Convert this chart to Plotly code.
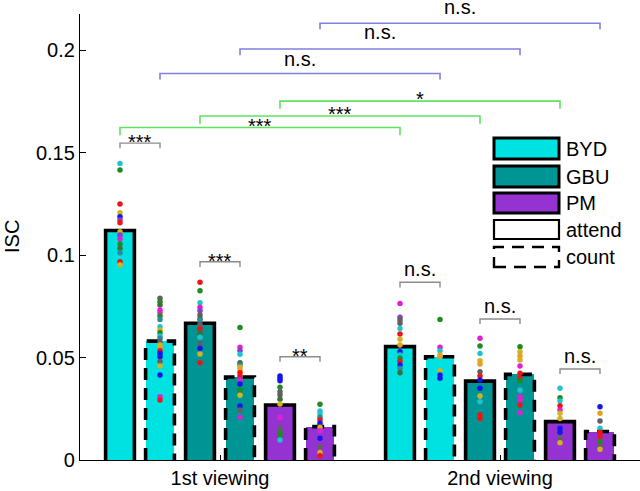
import plotly.graph_objects as go

# ---------------- data ----------------
conditions = ["BYD attend", "BYD count", "GBU attend", "GBU count", "PM attend", "PM count"]
stimulus = ["BYD", "BYD", "GBU", "GBU", "PM", "PM"]
task = ["attend", "count", "attend", "count", "attend", "count"]
viewing_labels = ["1st viewing", "2nd viewing"]
viewing_centers = [3.5, 10.5]
positions_1st = [1, 2, 3, 4, 5, 6]
positions_2nd = [8, 9, 10, 11, 12, 13]
isc_1st = [0.112, 0.058, 0.0667, 0.0405, 0.0268, 0.0163]
isc_2nd = [0.0553, 0.0504, 0.0385, 0.0418, 0.0187, 0.0139]

# individual subjects (value lists per bar) and their colour codes
subj_1st = [
    [0.1447, 0.1415, 0.1249, 0.1206, 0.1187, 0.1171, 0.1158, 0.1114, 0.1098, 0.1078, 0.1054, 0.1033, 0.1011, 0.0967, 0.0951],
    [0.0789, 0.0772, 0.0756, 0.0732, 0.0719, 0.0702, 0.0686, 0.065, 0.0634, 0.0621, 0.0605, 0.0594, 0.0577, 0.0561, 0.0545, 0.0533, 0.052, 0.0504, 0.048, 0.0459, 0.0415, 0.0309, 0.0293],
    [0.0867, 0.0826, 0.0767, 0.0745, 0.0728, 0.0707, 0.069, 0.0683, 0.0662, 0.0639, 0.062, 0.0599, 0.0569, 0.0545, 0.0517, 0.0475],
    [0.0647, 0.055, 0.0533, 0.0516, 0.0475, 0.0463, 0.0452, 0.0439, 0.0426, 0.041, 0.039, 0.0371, 0.0341, 0.0316, 0.0263, 0.0244, 0.0208],
    [0.041, 0.0398, 0.0387, 0.0355, 0.0333, 0.0317, 0.0296, 0.0273, 0.0208, 0.0155, 0.0133, 0.0117, 0.0098],
    [0.0272, 0.0239, 0.0224, 0.0208, 0.0195, 0.0179, 0.016, 0.0143, 0.0106, 0.0065, 0.0036, 0.0021],
]
subj_col_1st = [
    "cgrybprypmgdtry",
    "kgdmmgtcygctkyorbbkybmr",
    "rgcmpkdtkrdckbyr",
    "gmpcdtyorrmbgybkm",
    "bbbgkkdymkggc",
    "gcctrbymbkyr",
]
subj_2nd = [
    [0.0764, 0.0696, 0.0683, 0.0667, 0.0642, 0.0615, 0.0589, 0.0561, 0.0528, 0.0512, 0.0496, 0.048, 0.0463, 0.0447, 0.0426],
    [0.0686, 0.055, 0.0533, 0.0512, 0.0505, 0.0436, 0.0415, 0.0399],
    [0.0594, 0.0556, 0.052, 0.0484, 0.0468, 0.0431, 0.041, 0.039, 0.035, 0.0312, 0.0284, 0.022, 0.0203],
    [0.0553, 0.0528, 0.0507, 0.0488, 0.0459, 0.0423, 0.0399, 0.0387, 0.0341, 0.0309, 0.0293, 0.0268, 0.0231],
    [0.035, 0.0304, 0.0288, 0.0265, 0.0244, 0.0228, 0.0203, 0.0155, 0.0135, 0.0109, 0.0084],
    [0.026, 0.0228, 0.019, 0.0155, 0.0135, 0.0114, 0.0089, 0.0065, 0.0052],
]
subj_col_2nd = [
    "mpkkcryobcgrbtd",
    "gmcyoybb",
    "mgcyokrbbycrr",
    "gyoymrrgcmmrm",
    "cgcrmyybbky",
    "bokcrrgky",
]

# significance brackets: (left position, right position), height, label
within_pairs = [(1, 2), (3, 4), (5, 6), (8, 9), (10, 11), (12, 13)]
within_heights = [0.1546, 0.0967, 0.0504, 0.0867, 0.0688, 0.0444]
within_labels = ["***", "***", "**", "n.s.", "n.s.", "n.s."]
attend_pairs = [(1, 8), (3, 10), (5, 12)]
attend_heights = [0.1622, 0.1678, 0.1751]
attend_labels = ["***", "***", "*"]
count_pairs = [(2, 9), (4, 11), (6, 13)]
count_heights = [0.1886, 0.2005, 0.2131]
count_labels = ["n.s.", "n.s.", "n.s."]

legend_labels = ["BYD", "GBU", "PM", "attend", "count"]
y_ticks = [0, 0.05, 0.1, 0.15, 0.2]
y_ticklabels = ["0", "0.05", "0.1", "0.15", "0.2"]
y_title = "ISC"

# ---------------- style ----------------
FONT = "Liberation Sans, Arial, Helvetica, sans-serif"
FS = 20
fill = {"BYD": "#00E1E1", "GBU": "#009595", "PM": "#9433D2"}
dot_palette = {
    "c": "#1FC3CF", "g": "#1E8C1E", "r": "#EE1515", "y": "#D2B21E", "b": "#1515EE",
    "m": "#E020D2", "p": "#8A3CC8", "k": "#606060", "t": "#2E8A9A", "o": "#E8A020",
    "d": "#3C6E3C",
}
BW = 0.72
W, H = 640, 491
L, R, T, B = 80, 0, 14, 31
YMAX = 0.2176

fig = go.Figure()

positions = positions_1st + positions_2nd
values = isc_1st + isc_2nd
stims = stimulus + stimulus
tasks = task + task
subjects = subj_1st + subj_2nd
subj_cols = subj_col_1st + subj_col_2nd

# bar fills
fig.add_trace(go.Bar(
    x=positions, y=values, width=BW,
    marker=dict(color=[fill[s] for s in stims], line=dict(width=0)),
    showlegend=False, hoverinfo="skip",
))

# bar outlines
for p, v, t in zip(positions, values, tasks):
    fig.add_trace(go.Scatter(
        x=[p - BW / 2, p - BW / 2, p + BW / 2, p + BW / 2],
        y=[0, v, v, 0], mode="lines",
        line=dict(color="black", width=3.6, dash="solid" if t == "attend" else "12px,8px"),
        showlegend=False, hoverinfo="skip",
    ))

# subject dots
for p, vals, cols in zip(positions, subjects, subj_cols):
    fig.add_trace(go.Scatter(
        x=[p] * len(vals), y=vals, mode="markers",
        marker=dict(size=5.5, color=[dot_palette[c] for c in cols], line=dict(width=0)),
        showlegend=False, hoverinfo="skip",
    ))

annotations = []


def bracket(pair, h, label, color, drop, width, yshift):
    a, b = pair
    fig.add_trace(go.Scatter(
        x=[a, a, b, b], y=[h - drop, h, h, h - drop], mode="lines",
        line=dict(color=color, width=width), showlegend=False, hoverinfo="skip",
        cliponaxis=False,
    ))
    annotations.append(dict(
        x=(a + b) / 2, y=h, xref="x", yref="y", text=label, showarrow=False,
        yanchor="bottom", yshift=yshift, font=dict(family=FONT, size=FS, color="black"),
    ))


for pair, h, lab in zip(within_pairs, within_heights, within_labels):
    star = lab.startswith("*")
    bracket(pair, h, lab, "#8C8C8C", 0.0025, 1.4, -12 if star else 0)
for pair, h, lab in zip(attend_pairs, attend_heights, attend_labels):
    bracket(pair, h, lab, "#5FE35F", 0.0037, 1.6, -11)
for (pair, h, lab), ys in zip(zip(count_pairs, count_heights, count_labels), [1, 4, 3]):
    bracket(pair, h, lab, "#8080E0", 0.003, 1.6, ys)


# custom legend (pixel positions converted to paper coordinates)
def px(xp):
    return (xp - L) / (W - L - R)


def py(yp):
    return (H - B - yp) / (H - T - B)


shapes = []
rows = [(138, 159), (166, 187), (193, 213), (220, 239), (247, 267)]
for lab, (y0, y1) in zip(legend_labels, rows):
    if lab in fill:
        line = dict(color="black", width=3)
        fc = fill[lab]
    elif lab == "attend":
        line = dict(color="black", width=2.2)
        fc = "white"
    else:
        line = dict(color="black", width=2.4, dash="12px,8px")
        fc = "rgba(0,0,0,0)"
    shapes.append(dict(type="rect", xref="paper", yref="paper",
                       x0=px(494), x1=px(559), y0=py(y1), y1=py(y0),
                       line=line, fillcolor=fc, layer="above"))
    annotations.append(dict(x=px(564), y=py((y0 + y1) / 2), xref="paper", yref="paper",
                            text=lab, showarrow=False, xanchor="left", yanchor="middle",
                            font=dict(family=FONT, size=FS, color="black")))

# y-axis title
annotations.append(dict(x=px(12), y=0.5, xref="paper", yref="paper", text=y_title,
                        textangle=-90, showarrow=False, xanchor="center", yanchor="middle",
                        font=dict(family=FONT, size=FS, color="black")))

fig.update_layout(
    width=W, height=H,
    margin=dict(l=L, r=R, t=T, b=B, pad=0),
    paper_bgcolor="white", plot_bgcolor="white",
    font=dict(family=FONT, size=FS, color="black"),
    showlegend=False, bargap=0,
    shapes=shapes, annotations=annotations,
    xaxis=dict(range=[0, 14], showgrid=False, zeroline=False, showline=True,
               linecolor="black", linewidth=1.3, ticks="inside", ticklen=5,
               tickcolor="black", tickwidth=1.2,
               tickvals=viewing_centers, ticktext=viewing_labels,
               tickfont=dict(family=FONT, size=FS)),
    yaxis=dict(range=[0, YMAX], showgrid=False, zeroline=False, showline=True,
               linecolor="black", linewidth=1.3, ticks="inside", ticklen=6,
               tickcolor="black", tickwidth=1.2,
               tickvals=y_ticks, ticktext=y_ticklabels,
               tickfont=dict(family=FONT, size=FS)),
)

fig.write_html("out.html", config={"displayModeBar": False},
               post_script="document.body.style.margin='0px';")
